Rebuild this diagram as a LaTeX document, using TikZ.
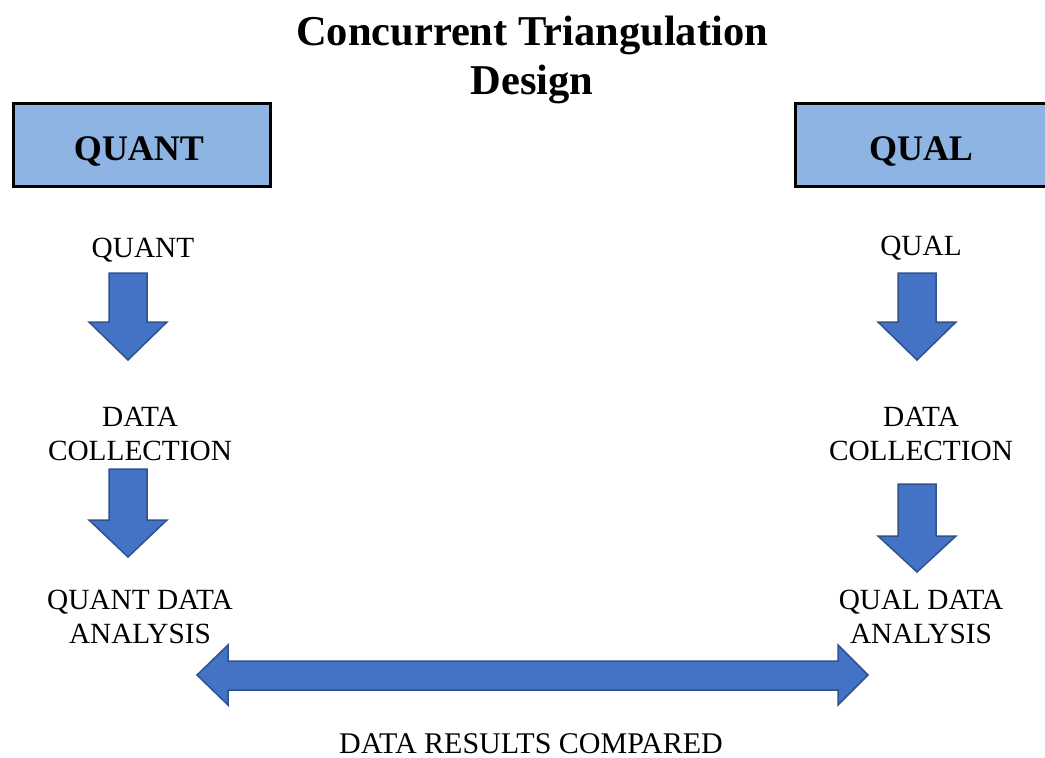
\documentclass[tikz,border=0pt]{standalone}
\usepackage{fontspec}
\setmainfont{Liberation Serif}
\definecolor{boxfill}{HTML}{8EB4E3}
\definecolor{arrfill}{HTML}{4472C4}
\definecolor{arrdraw}{HTML}{2F528F}
\tikzset{
  headbox/.style={draw=black,line width=3pt,fill=boxfill},
  blockarrow/.style={fill=arrfill,draw=arrdraw,line width=1.5pt,line join=miter},
  lbl/.style={anchor=base,inner sep=0pt,font=\fontsize{29.3}{34}\selectfont},
  boxlbl/.style={anchor=base,inner sep=0pt,font=\fontsize{36}{40}\selectfont\bfseries},
  ttl/.style={anchor=base,inner sep=0pt,font=\fontsize{42.5}{46}\selectfont\bfseries}
}
% #1 centre x, #2 top y, #3 head y, #4 tip y
\newcommand\blockdown[4]{%
  \draw[blockarrow] (#1-19,#2) -- (#1+19,#2) -- (#1+19,#3) -- (#1+39,#3) -- (#1,#4)
    -- (#1-39,#3) -- (#1-19,#3) -- cycle;}
\begin{document}
\begin{tikzpicture}[x=1pt,y=-1pt]
\useasboundingbox (0,0) rectangle (1045,758);
\clip (0,0) rectangle (1045,758);
% title
\node[ttl] (t1) at (532,45) {Concurrent Triangulation};
\node[ttl] (t2) at (532,94) {Design};
% header boxes
\draw[headbox] (13.5,103.5) rectangle (270.5,186.5);
\node[boxlbl] (quantbox) at (139,160) {QUANT};
\draw[headbox] (795.5,103.5) rectangle (1060,186.5);
\node[boxlbl] (qualbox) at (921,160) {QUAL};
% left column
\node[lbl] (lq) at (143,257) {QUANT};
\node[lbl] (ld1) at (140,426) {DATA};
\node[lbl] (ld2) at (140,460) {COLLECTION};
\node[lbl] (la1) at (140,609) {QUANT DATA};
\node[lbl] (la2) at (140,643) {ANALYSIS};
% right column
\node[lbl] (rq) at (921,255) {QUAL};
\node[lbl] (rd1) at (921,426) {DATA};
\node[lbl] (rd2) at (921,460) {COLLECTION};
\node[lbl] (ra1) at (921,609) {QUAL DATA};
\node[lbl] (ra2) at (921,643) {ANALYSIS};
% bottom label
\node[lbl,font=\fontsize{30}{34}\selectfont] (cmp) at (531,753) {DATA RESULTS COMPARED};
% down arrows
\blockdown{128}{273}{322}{360}
\blockdown{128}{469}{520}{557}
\blockdown{917}{273}{322}{360}
\blockdown{917}{484}{536}{572}
% double arrow
\draw[blockarrow] (197,675) -- (228,645) -- (228,661) -- (838,661) -- (838,645)
  -- (868,675) -- (838,705) -- (838,690) -- (228,690) -- (228,705) -- cycle;
\end{tikzpicture}
\end{document}
